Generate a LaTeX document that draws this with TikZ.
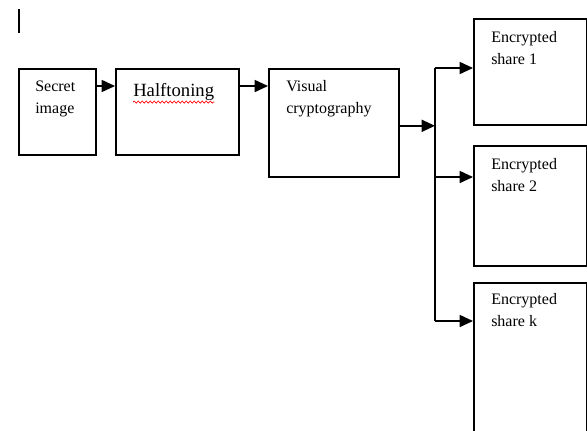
\documentclass[tikz,border=0pt]{standalone}
\usepackage{fontspec}
\setmainfont{Liberation Serif}
\usetikzlibrary{arrows.meta,decorations.pathmorphing}
\tikzset{
  caja/.style={draw, line width=1.2pt, anchor=north west, inner sep=0pt},
  texto/.style={anchor=north west, inner sep=0pt, align=left, font=\fontsize{12}{16.5}\selectfont},
  flecha/.style={line width=1.2pt, -{Triangle[length=10pt,width=9pt]}}
}
\begin{document}
\begin{tikzpicture}[x=0.75pt, y=-0.75pt]
    \useasboundingbox (0,0) rectangle (587,430);

    % Cursor
    \draw[line width=2pt] (19,9) -- (19,33);

    % Cajas
    \node[caja, minimum width=57.75pt, minimum height=64.5pt] (secret) at (18,68) {};
    \node[caja, minimum width=92.25pt, minimum height=64.5pt] (half) at (115,68) {};
    \node[caja, minimum width=97.5pt, minimum height=81pt] (visual) at (268,68) {};
    \node[caja, minimum width=84.75pt, minimum height=79.5pt] (share1) at (473,18) {};
    \node[caja, minimum width=84.75pt, minimum height=90pt] (share2) at (473,145) {};
    \node[caja, minimum width=84.75pt, minimum height=118.5pt] (sharek) at (473,282) {};

    % Textos
    \node[texto] (tsecret) at (35,81) {Secret\\image};
    \node[texto, font=\fontsize{14}{16.5}\selectfont] (thalf) at (133,83) {Halftoning};
    \node[texto] (tvisual) at (286,80) {Visual\\cryptography};
    \node[texto] (tshare1) at (491,31) {Encrypted\\share 1};
    \node[texto] (tshare2) at (491,158) {Encrypted\\share 2};
    \node[texto] (tsharek) at (491,293) {Encrypted\\share k};

    % Subrayado
    \draw[red, line width=0.5pt, decorate, decoration={snake, segment length=3pt, amplitude=0.8pt}]
        ([yshift=-1pt]thalf.south west) -- ([yshift=-1pt]thalf.south east);

    % Flechas
    \draw[flecha] ([yshift=-13.5pt]secret.north east) -- ([yshift=-13.5pt]half.north west);
    \draw[flecha] ([yshift=-13.5pt]half.north east) -- ([yshift=-13.5pt]visual.north west);

    % Reparto de las sombras
    \coordinate (b1) at (435,68);
    \coordinate (b2) at (435,177);
    \coordinate (bk) at (435,321);
    \draw[flecha] ([yshift=-2.25pt]visual.east) -- ([yshift=-2.25pt]visual.east -| b1);
    \draw[line width=1.2pt] (b1) -- (bk);
    \draw[flecha] (b1) -- (b1 -| share1.west);
    \draw[flecha] (b2) -- (b2 -| share2.west);
    \draw[flecha] (bk) -- (bk -| sharek.west);
\end{tikzpicture}
\end{document}
